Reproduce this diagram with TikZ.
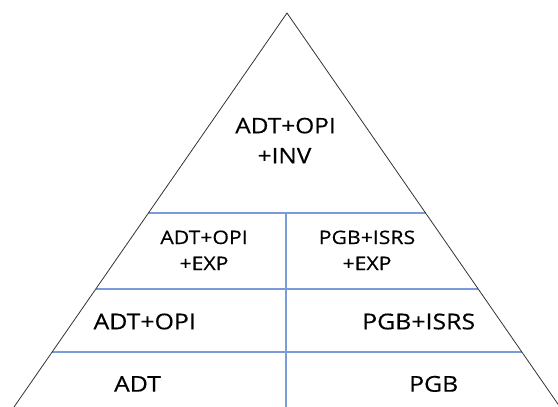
\documentclass[tikz,border=0pt]{standalone}
\usepackage{fontspec}
\setmainfont{Open Sans}[FakeStretch=1.14,FakeBold=0.4]
\begin{document}
\begin{tikzpicture}[x=1pt,y=-1pt,
  edge/.style={draw=black!80, line width=0.8pt},
  grid/.style={draw={rgb,255:red,120;green,155;blue,218}, line width=1.1pt},
  lbl/.style={anchor=base, inner sep=0pt},
  big/.style={lbl, font=\fontsize{21.4}{26}\selectfont},
  mid/.style={lbl, font=\fontsize{18.6}{22}\selectfont},
  low/.style={lbl, font=\fontsize{21.8}{26}\selectfont}]
\useasboundingbox (0,0) rectangle (558,407);
\clip (0,0) rectangle (558,407);
\coordinate (apex) at (287,13);
\coordinate (bl) at (10.9,411.5);
\coordinate (br) at (563.1,411.5);
% horizontal dividers
\coordinate (h1l) at (148.4,213); \coordinate (h1r) at (425.6,213);
\coordinate (h2l) at (95.7,289);  \coordinate (h2r) at (478.3,289);
\coordinate (h3l) at (52.1,352);  \coordinate (h3r) at (521.9,352);
\coordinate (vt) at (286,213); \coordinate (vb) at (286,410);
\draw[grid] (h1l) -- (h1r);
\draw[grid] (h2l) -- (h2r);
\draw[grid] (h3l) -- (h3r);
\draw[grid] (vt) -- (vb);
\draw[edge] (bl) -- (apex) -- (br);
% labels
\node[big] (topA) at (285.5,133.3) {ADT+OPI};
\node[big] (topB) at (284.5,163.3) {+INV};
\node[mid] (mlA) at (204,244) {ADT+OPI};
\node[mid] (mlB) at (204,270) {+EXP};
\node[mid] (mrA) at (367,244) {PGB+ISRS};
\node[mid] (mrB) at (367,270) {+EXP};
\node[low] (lowL) at (144.7,329.3) {ADT+OPI};
\node[low] (lowR) at (418.7,329.3) {PGB+ISRS};
\node[low] (baseL) at (137.5,391.7) {ADT};
\node[low] (baseR) at (433.7,391.7) {PGB};
\end{tikzpicture}
\end{document}
